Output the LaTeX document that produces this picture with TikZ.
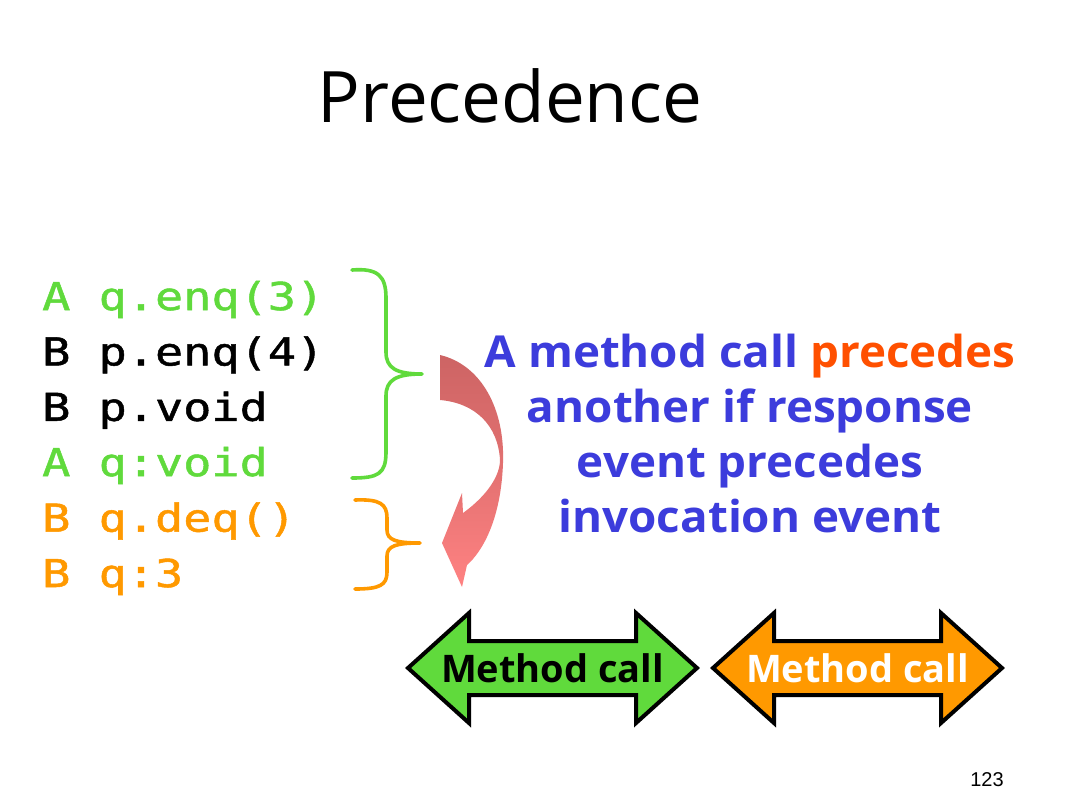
\documentclass[tikz,border=0pt]{standalone}
\usepackage{fontspec}
\setmainfont{Open Sans}
\newfontfamily\codefont[FakeStretch=1.22,FakeBold=1.3]{DejaVu Sans Mono}
\newfontfamily\comicfont{Open Sans}
\newfontfamily\bluefont[FakeStretch=1.04]{Open Sans}
\newfontfamily\numfont{Liberation Sans}
\definecolor{cgreen}{RGB}{96,218,60}
\definecolor{corange}{RGB}{255,153,0}
\definecolor{cblue}{RGB}{60,60,220}
\definecolor{cred}{RGB}{255,80,0}
\definecolor{arrtop}{RGB}{205,100,100}
\definecolor{arrbot}{RGB}{255,130,130}
\tikzset{
  codeline/.style={anchor=base west, inner sep=0pt, font=\codefont\fontsize{38.4}{40}\selectfont},
  blueline/.style={anchor=base, inner sep=0pt, text=cblue, font=\bluefont\bfseries\fontsize{44}{46}\selectfont},
  bracestyle/.style={line width=3.6pt, line cap=round, line join=round},
  mcarrow/.style={line width=4pt, line join=miter, draw=black},
  mctext/.style={anchor=base, inner sep=0pt, font=\comicfont\bfseries\fontsize{38}{40}\selectfont}
}
\begin{document}
\begin{tikzpicture}[x=1pt,y=-1pt]
\useasboundingbox (0,0) rectangle (1071,798);
\fill[white] (0,0) rectangle (1071,798);

% title
\node[anchor=base, inner sep=0pt, font=\comicfont\fontsize{71}{74}\selectfont] (title) at (510,122) {Precedence};

% code lines
\node[codeline, text=cgreen] (c1) at (42,310) {A q.enq(3)};
\node[codeline, text=black] (c2) at (42,365.4) {B p.enq(4)};
\node[codeline, text=black] (c3) at (42,420.8) {B p.void};
\node[codeline, text=cgreen] (c4) at (42,476) {A q:void};
\node[codeline, text=corange] (c5) at (42,531.6) {B q.deq()};
\node[codeline, text=corange] (c6) at (42,587) {B q:3};

% braces
\draw[bracestyle, cgreen] (352,270) .. controls (378,268) and (386,276) .. (386,298) -- (386,352)
  .. controls (386,368) and (396,374) .. (422,374)
  .. controls (396,374) and (386,380) .. (386,396) -- (386,452)
  .. controls (386,474) and (378,478) .. (352,478);
\draw[bracestyle, corange] (355,500) .. controls (380,499) and (387,504) .. (387,518) -- (387,530)
  .. controls (387,540) and (396,543) .. (420,543)
  .. controls (396,543) and (387,546) .. (387,556) -- (387,572)
  .. controls (387,585) and (380,589) .. (355,589);

% curved arrow
\shade[top color=arrtop, bottom color=arrbot, middle color=arrtop!55!arrbot]
  (440,355) .. controls (482,365) and (505,410) .. (503,463)
  .. controls (501,520) and (482,552) .. (467,565)
  -- (462,587) -- (442,543) -- (462,493) -- (463,513)
  .. controls (488,495) and (500,475) .. (500,460)
  .. controls (498,425) and (475,403) .. (440,400) -- cycle;

% blue text
\node[blueline] (b1) at (750,367) {A method call \textcolor{cred}{precedes}};
\node[blueline] (b2) at (750,422) {another if response};
\node[blueline] (b3) at (750,477) {event precedes};
\node[blueline] (b4) at (750,532) {invocation event};

% method call arrows
\draw[mcarrow, fill=cgreen] (408,668) -- (469,613) -- (469,641) -- (636,641) -- (636,613) -- (697,668)
  -- (636,723) -- (636,695) -- (469,695) -- (469,723) -- cycle;
\node[mctext, text=black] (m1) at (552.5,682) {Method call};
\draw[mcarrow, fill=corange] (713,668) -- (774,613) -- (774,641) -- (941,641) -- (941,613) -- (1002,668)
  -- (941,723) -- (941,695) -- (774,695) -- (774,723) -- cycle;
\node[mctext, text=white] (m2) at (857.5,682) {Method call};

% page number
\node[anchor=base, inner sep=0pt, font=\numfont\fontsize{20}{22}\selectfont] (pg) at (987,786) {123};
\end{tikzpicture}
\end{document}
